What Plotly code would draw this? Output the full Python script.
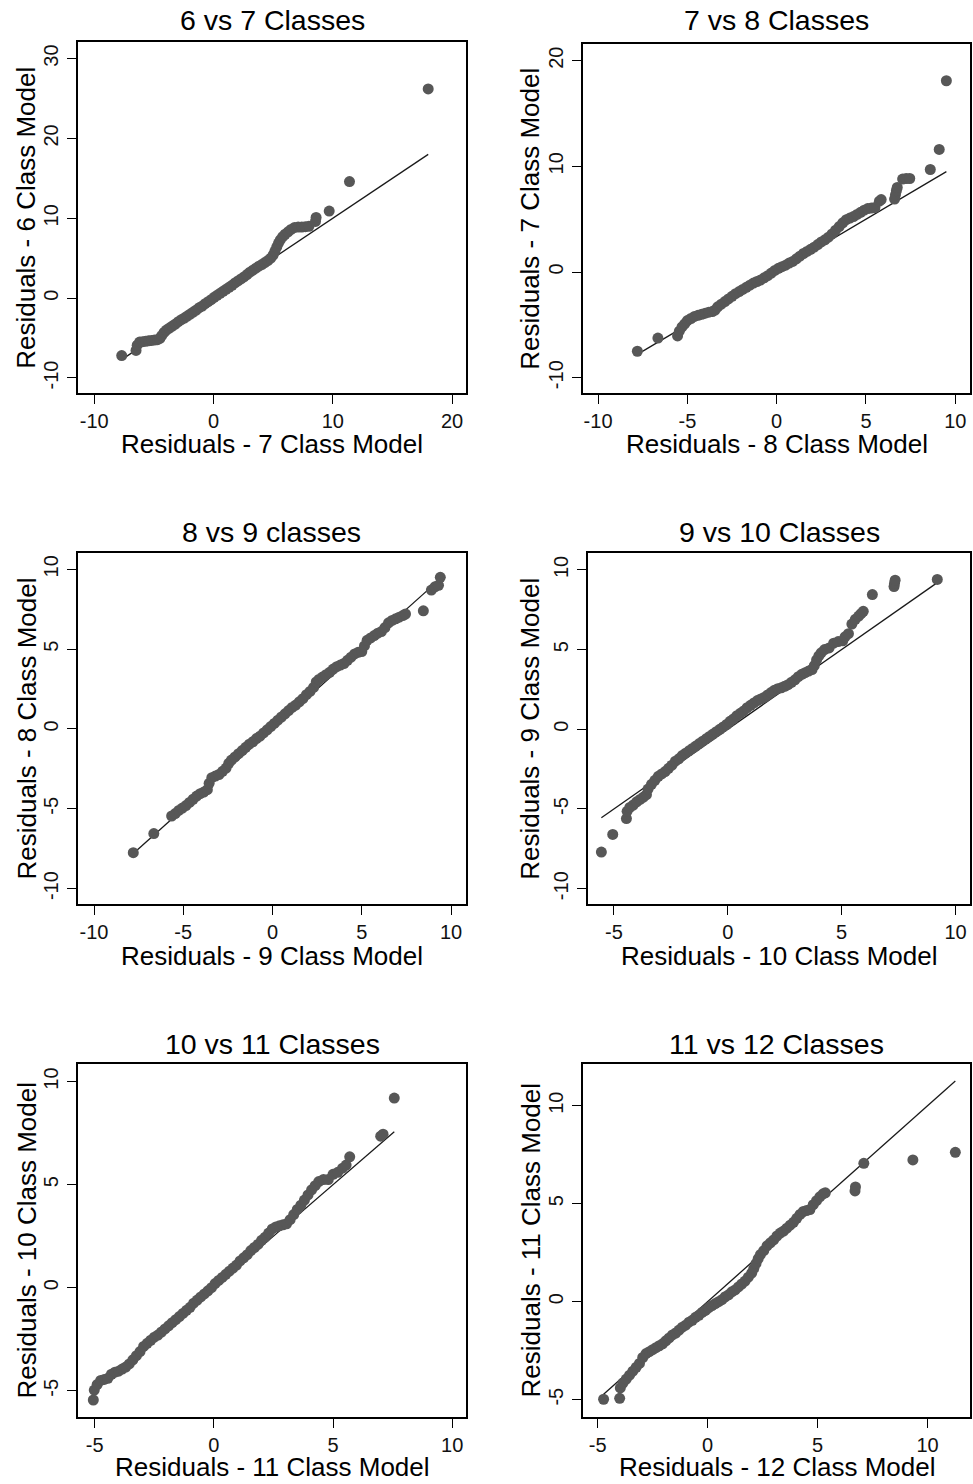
import plotly.graph_objects as go

W, H = 973, 1484

titles = ["6 vs 7 Classes", "7 vs 8 Classes", "8 vs 9 classes",
          "9 vs 10 Classes", "10 vs 11 Classes", "11 vs 12 Classes"]
x_labels = ["Residuals - 7 Class Model", "Residuals - 8 Class Model",
            "Residuals - 9 Class Model", "Residuals - 10 Class Model",
            "Residuals - 11 Class Model", "Residuals - 12 Class Model"]
y_labels = ["Residuals - 6 Class Model", "Residuals - 7 Class Model",
            "Residuals - 8 Class Model", "Residuals - 9 Class Model",
            "Residuals - 10 Class Model", "Residuals - 11 Class Model"]

# ---- sorted residual quantiles ----
p1_x = [-7.7, -6.5, -6.4, -6.2, -5.95, -5.7, -5.45, -5.2, -4.95, -4.7,
        -4.5, -4.35, -4.15, -3.95, -3.7, -3.45, -3.2, -2.95, -2.7, -2.45,
        -2.2, -1.95, -1.7, -1.45, -1.2, -0.95, -0.7, -0.45, -0.2, 0.05,
        0.3, 0.55, 0.8, 1.05, 1.3, 1.55, 1.8, 2.05, 2.3, 2.55,
        2.8, 3.05, 3.3, 3.55, 3.8, 4.05, 4.3, 4.55, 4.8, 5.0,
        5.15, 5.3, 5.45, 5.6, 5.8, 6.0, 6.25, 6.5, 6.8, 7.1,
        7.4, 7.7, 8.0, 8.55, 8.6, 9.7, 11.4, 18.0]
p1_y = [-7.2, -6.55, -5.9, -5.5, -5.45, -5.4, -5.35, -5.3, -5.25, -5.2,
        -5.05, -4.7, -4.3, -4.0, -3.75, -3.5, -3.25, -2.95, -2.7, -2.5,
        -2.25, -2.0, -1.75, -1.5, -1.2, -1.0, -0.7, -0.45, -0.2, 0.1,
        0.35, 0.6, 0.85, 1.1, 1.35, 1.6, 1.9, 2.15, 2.4, 2.65,
        2.95, 3.25, 3.5, 3.75, 4.0, 4.2, 4.45, 4.7, 5.0, 5.4,
        5.9, 6.4, 6.9, 7.3, 7.7, 8.0, 8.3, 8.6, 8.85, 8.9,
        8.9, 8.95, 9.0, 9.6, 10.1, 10.9, 14.6, 26.2]

p2_x = [-7.8, -6.65, -5.55, -5.45, -5.3, -5.15, -5.0, -4.8, -4.6, -4.4,
        -4.2, -4.0, -3.8, -3.6, -3.45, -3.3, -3.1, -2.9, -2.7, -2.5,
        -2.3, -2.1, -1.9, -1.7, -1.5, -1.3, -1.1, -0.9, -0.7, -0.5,
        -0.3, -0.1, 0.1, 0.3, 0.5, 0.7, 0.9, 1.1, 1.3, 1.5,
        1.7, 1.9, 2.1, 2.3, 2.5, 2.7, 2.9, 3.1, 3.3, 3.5,
        3.7, 3.9, 4.1, 4.3, 4.5, 4.7, 4.9, 5.1, 5.3, 5.5,
        5.75, 5.85, 6.6, 6.65, 6.7, 6.75, 7.05, 7.25, 7.45, 8.6,
        9.1, 9.5]
p2_y = [-7.5, -6.25, -6.05, -5.6, -5.2, -4.9, -4.6, -4.4, -4.2, -4.1,
        -4.0, -3.9, -3.8, -3.75, -3.6, -3.3, -3.05, -2.8, -2.55, -2.3,
        -2.05, -1.85, -1.65, -1.45, -1.25, -1.05, -0.9, -0.75, -0.55, -0.35,
        -0.1, 0.15, 0.35, 0.5, 0.65, 0.85, 1.0, 1.25, 1.5, 1.75,
        1.95, 2.15, 2.35, 2.6, 2.85, 3.05, 3.3, 3.6, 3.95, 4.3,
        4.65, 4.95, 5.1, 5.25, 5.45, 5.65, 5.85, 6.0, 6.05, 6.1,
        6.7, 6.85, 6.9, 7.3, 7.7, 8.0, 8.8, 8.85, 8.85, 9.7,
        11.6, 18.1]

p3_x = [-7.8, -6.65, -5.65, -5.45, -5.25, -5.05, -4.85, -4.65, -4.45, -4.25,
        -4.05, -3.85, -3.65, -3.55, -3.4, -3.2, -3.0, -2.8, -2.6, -2.45,
        -2.3, -2.1, -1.9, -1.7, -1.5, -1.3, -1.1, -0.9, -0.7, -0.5,
        -0.3, -0.1, 0.1, 0.3, 0.5, 0.7, 0.9, 1.1, 1.3, 1.5,
        1.7, 1.9, 2.1, 2.3, 2.45, 2.6, 2.8, 3.0, 3.2, 3.4,
        3.6, 3.8, 4.0, 4.2, 4.4, 4.6, 4.8, 5.0, 5.15, 5.3,
        5.5, 5.7, 5.9, 6.1, 6.3, 6.5, 6.7, 6.9, 7.1, 7.3,
        7.45, 8.45, 8.9, 9.1, 9.3, 9.4]
p3_y = [-7.75, -6.55, -5.45, -5.3, -5.1, -4.95, -4.8, -4.6, -4.4, -4.2,
        -4.05, -3.95, -3.8, -3.4, -3.05, -2.95, -2.85, -2.65, -2.45, -2.15,
        -1.95, -1.75, -1.55, -1.35, -1.15, -0.95, -0.8, -0.6, -0.45, -0.25,
        -0.05, 0.15, 0.35, 0.55, 0.75, 0.95, 1.15, 1.35, 1.5, 1.7,
        1.9, 2.15, 2.35, 2.6, 2.95, 3.1, 3.25, 3.4, 3.55, 3.75,
        3.9, 4.0, 4.1, 4.3, 4.5, 4.7, 4.8, 4.85, 5.2, 5.55,
        5.7, 5.85, 6.0, 6.1, 6.35, 6.65, 6.8, 6.9, 7.0, 7.1,
        7.2, 7.4, 8.7, 8.9, 9.0, 9.5]

p4_x = [-5.55, -5.05, -4.45, -4.42, -4.3, -4.15, -4.0, -3.85, -3.7, -3.57,
        -3.5, -3.35, -3.2, -3.05, -2.9, -2.75, -2.6, -2.45, -2.3, -2.15,
        -2.0, -1.85, -1.7, -1.55, -1.4, -1.25, -1.1, -0.95, -0.8, -0.65,
        -0.5, -0.35, -0.2, -0.05, 0.1, 0.25, 0.4, 0.55, 0.7, 0.85,
        1.0, 1.15, 1.3, 1.45, 1.6, 1.75, 1.9, 2.05, 2.2, 2.35,
        2.5, 2.65, 2.8, 2.95, 3.1, 3.25, 3.4, 3.55, 3.7, 3.8,
        3.9, 4.0, 4.1, 4.25, 4.45, 4.65, 4.85, 5.05, 5.15, 5.3,
        5.45, 5.6, 5.75, 5.85, 5.95, 6.35, 7.3, 7.32, 7.35, 9.2]
p4_y = [-7.7, -6.6, -5.6, -5.15, -4.9, -4.75, -4.55, -4.4, -4.25, -4.1,
        -3.75, -3.45, -3.2, -2.95, -2.8, -2.65, -2.45, -2.25, -2.0, -1.85,
        -1.65, -1.5, -1.35, -1.2, -1.05, -0.9, -0.75, -0.6, -0.45, -0.3,
        -0.15, 0.0, 0.15, 0.3, 0.5, 0.65, 0.85, 1.0, 1.15, 1.35,
        1.5, 1.65, 1.8, 1.9, 2.0, 2.15, 2.3, 2.45, 2.55, 2.6,
        2.7, 2.8, 2.95, 3.1, 3.3, 3.45, 3.55, 3.65, 3.75, 4.0,
        4.35, 4.6, 4.8, 5.0, 5.1, 5.4, 5.5, 5.55, 5.8, 6.0,
        6.6, 6.9, 7.1, 7.25, 7.4, 8.45, 8.95, 9.15, 9.35, 9.4]

p5_x = [-5.06, -5.02, -4.9, -4.75, -4.6, -4.45, -4.3, -4.15, -4.0, -3.85,
        -3.7, -3.55, -3.4, -3.25, -3.1, -2.95, -2.8, -2.65, -2.5, -2.35,
        -2.2, -2.05, -1.9, -1.75, -1.6, -1.45, -1.3, -1.15, -1.0, -0.85,
        -0.7, -0.55, -0.4, -0.25, -0.1, 0.05, 0.2, 0.35, 0.5, 0.65,
        0.8, 0.95, 1.1, 1.25, 1.4, 1.55, 1.7, 1.85, 2.0, 2.15,
        2.3, 2.45, 2.6, 2.75, 2.9, 3.05, 3.2, 3.35, 3.5, 3.65,
        3.8, 3.95, 4.1, 4.25, 4.4, 4.6, 4.8, 5.0, 5.2, 5.4,
        5.55, 5.7, 7.0, 7.1, 7.57]
p5_y = [-5.45, -4.97, -4.7, -4.5, -4.45, -4.4, -4.2, -4.1, -4.05, -3.95,
        -3.85, -3.7, -3.5, -3.3, -3.1, -2.85, -2.7, -2.55, -2.4, -2.3,
        -2.15, -2.0, -1.85, -1.7, -1.55, -1.4, -1.25, -1.1, -0.95, -0.75,
        -0.6, -0.45, -0.3, -0.15, 0.0, 0.2, 0.35, 0.5, 0.65, 0.8,
        0.95, 1.1, 1.3, 1.45, 1.6, 1.8, 1.95, 2.1, 2.3, 2.45,
        2.65, 2.85, 2.95, 3.0, 3.05, 3.1, 3.3, 3.55, 3.8, 4.0,
        4.25, 4.5, 4.75, 4.95, 5.15, 5.25, 5.25, 5.5, 5.6, 5.8,
        5.95, 6.35, 7.35, 7.45, 9.2]

p6_x = [-4.73, -4.0, -3.97, -3.85, -3.7, -3.55, -3.4, -3.25, -3.1, -2.95,
        -2.8, -2.65, -2.5, -2.35, -2.2, -2.05, -1.9, -1.75, -1.6, -1.45,
        -1.3, -1.15, -1.0, -0.85, -0.7, -0.55, -0.4, -0.25, -0.1, 0.05,
        0.2, 0.35, 0.5, 0.65, 0.8, 0.95, 1.1, 1.25, 1.4, 1.55,
        1.7, 1.85, 2.0, 2.1, 2.2, 2.3, 2.4, 2.55, 2.7, 2.85,
        3.0, 3.15, 3.3, 3.45, 3.6, 3.75, 3.9, 4.05, 4.2, 4.35,
        4.5, 4.65, 4.8, 4.95, 5.1, 5.25, 5.35, 6.7, 6.72, 7.1,
        9.33, 11.26]
p6_y = [-4.98, -4.93, -4.4, -4.15, -3.95, -3.75, -3.55, -3.35, -3.15, -2.85,
        -2.65, -2.55, -2.45, -2.35, -2.25, -2.15, -2.0, -1.85, -1.7, -1.6,
        -1.45, -1.3, -1.2, -1.05, -0.95, -0.8, -0.7, -0.55, -0.45, -0.3,
        -0.2, -0.1, 0.0, 0.1, 0.25, 0.35, 0.5, 0.6, 0.75, 0.9,
        1.05, 1.25, 1.45, 1.7, 1.95, 2.2, 2.4, 2.6, 2.85, 3.0,
        3.15, 3.35, 3.5, 3.6, 3.75, 3.9, 4.05, 4.25, 4.45, 4.6,
        4.65, 4.7, 4.95, 5.15, 5.35, 5.5, 5.55, 5.65, 5.85, 7.06,
        7.23, 7.62]

series_x = [p1_x, p2_x, p3_x, p4_x, p5_x, p6_x]
series_y = [p1_y, p2_y, p3_y, p4_y, p5_y, p6_y]

x_ticks = [[-10, 0, 10, 20], [-10, -5, 0, 5, 10], [-10, -5, 0, 5, 10],
           [-5, 0, 5, 10], [-5, 0, 5, 10], [-5, 0, 5, 10]]
y_ticks = [[-10, 0, 10, 20, 30], [-10, 0, 10, 20], [-10, -5, 0, 5, 10],
           [-10, -5, 0, 5, 10], [-5, 0, 5, 10], [-5, 0, 5, 10]]

x_ranges = [[-11.34, 21.17], [-10.86, 10.84], [-10.88, 10.84],
            [-6.15, 10.65], [-5.69, 10.58], [-5.68, 11.94]]
y_ranges = [[-11.92, 32.04], [-11.48, 21.55], [-10.98, 11.04],
            [-10.98, 11.04], [-6.26, 10.84], [-5.87, 12.11]]

# ---- layout geometry (pixels) ----
boxes = [(78.3, 466.0, 42.3, 393.3), (582.7, 970.3, 44.3, 393.3),
         (78.3, 466.0, 552.7, 904.3), (587.7, 970.3, 553.3, 904.3),
         (78.3, 466.0, 1064.3, 1416.7), (582.7, 970.3, 1064.3, 1416.7)]
title_pos = [(272.2, 20), (776.5, 20), (271.5, 532.5), (779.0, 532.5),
             (272.2, 1044), (776.5, 1044)]
xlab_pos = [(272.2, 444), (776.5, 444), (272.2, 955.5), (779.0, 955.5),
            (272.2, 1466.5), (776.5, 1466.5)]
ylab_pos = [(26, 217.8), (530, 218.8), (26, 728.5), (530, 728.8),
            (26, 1240.5), (530, 1240.5)]

FONT = "Liberation Sans, Arial, sans-serif"
PT_COLOR = "#575757"

fig = go.Figure()
annotations = []


def px_x(v):
    return v / W


def px_y(v):
    return 1 - v / H


for i in range(6):
    n = i + 1
    xa = "x" if n == 1 else f"x{n}"
    ya = "y" if n == 1 else f"y{n}"
    xs, ys = series_x[i], series_y[i]
    lo, hi = min(xs), max(xs)
    fig.add_trace(go.Scatter(x=[lo, hi], y=[lo, hi], mode="lines",
                             line=dict(color="#1a1a1a", width=1.3),
                             xaxis=xa, yaxis=ya, showlegend=False,
                             hoverinfo="skip"))
    fig.add_trace(go.Scatter(x=xs, y=ys, mode="markers",
                             marker=dict(color=PT_COLOR, size=11, line=dict(width=0)),
                             xaxis=xa, yaxis=ya, showlegend=False))
    l, r, t, b = boxes[i]
    axis_common = dict(showline=True, mirror=True, linecolor="black", linewidth=2,
                       ticks="outside", ticklen=9, tickwidth=1, tickcolor="black",
                       showgrid=False, zeroline=False,
                       tickfont=dict(family=FONT, size=20, color="#111111"))
    fig.layout[f"xaxis{'' if n == 1 else n}"] = dict(
        domain=[px_x(l), px_x(r)], range=x_ranges[i], anchor=ya,
        tickmode="array", tickvals=x_ticks[i], ticktext=[str(v) for v in x_ticks[i]],
        ticklabelstandoff=0, **axis_common)
    fig.layout[f"yaxis{'' if n == 1 else n}"] = dict(
        domain=[px_y(b), px_y(t)], range=y_ranges[i], anchor=xa,
        tickmode="array", tickvals=y_ticks[i], ticktext=[str(v) for v in y_ticks[i]],
        tickangle=-90, ticklabelstandoff=1, **axis_common)
    tx, ty = title_pos[i]
    annotations.append(dict(text=titles[i], x=px_x(tx), y=px_y(ty), xref="paper", yref="paper",
                            xanchor="center", yanchor="middle", showarrow=False,
                            font=dict(family=FONT, size=28.5, color="black")))
    lx, ly = xlab_pos[i]
    annotations.append(dict(text=x_labels[i], x=px_x(lx), y=px_y(ly), xref="paper", yref="paper",
                            xanchor="center", yanchor="middle", showarrow=False,
                            font=dict(family=FONT, size=26, color="black")))
    qx, qy = ylab_pos[i]
    annotations.append(dict(text=y_labels[i], x=px_x(qx), y=px_y(qy), xref="paper", yref="paper",
                            xanchor="center", yanchor="middle", showarrow=False, textangle=-90,
                            font=dict(family=FONT, size=26, color="black")))

fig.update_layout(width=W, height=H, margin=dict(l=0, r=0, t=0, b=0),
                  paper_bgcolor="white", plot_bgcolor="white",
                  annotations=annotations, showlegend=False)

fig.write_html("out.html")
